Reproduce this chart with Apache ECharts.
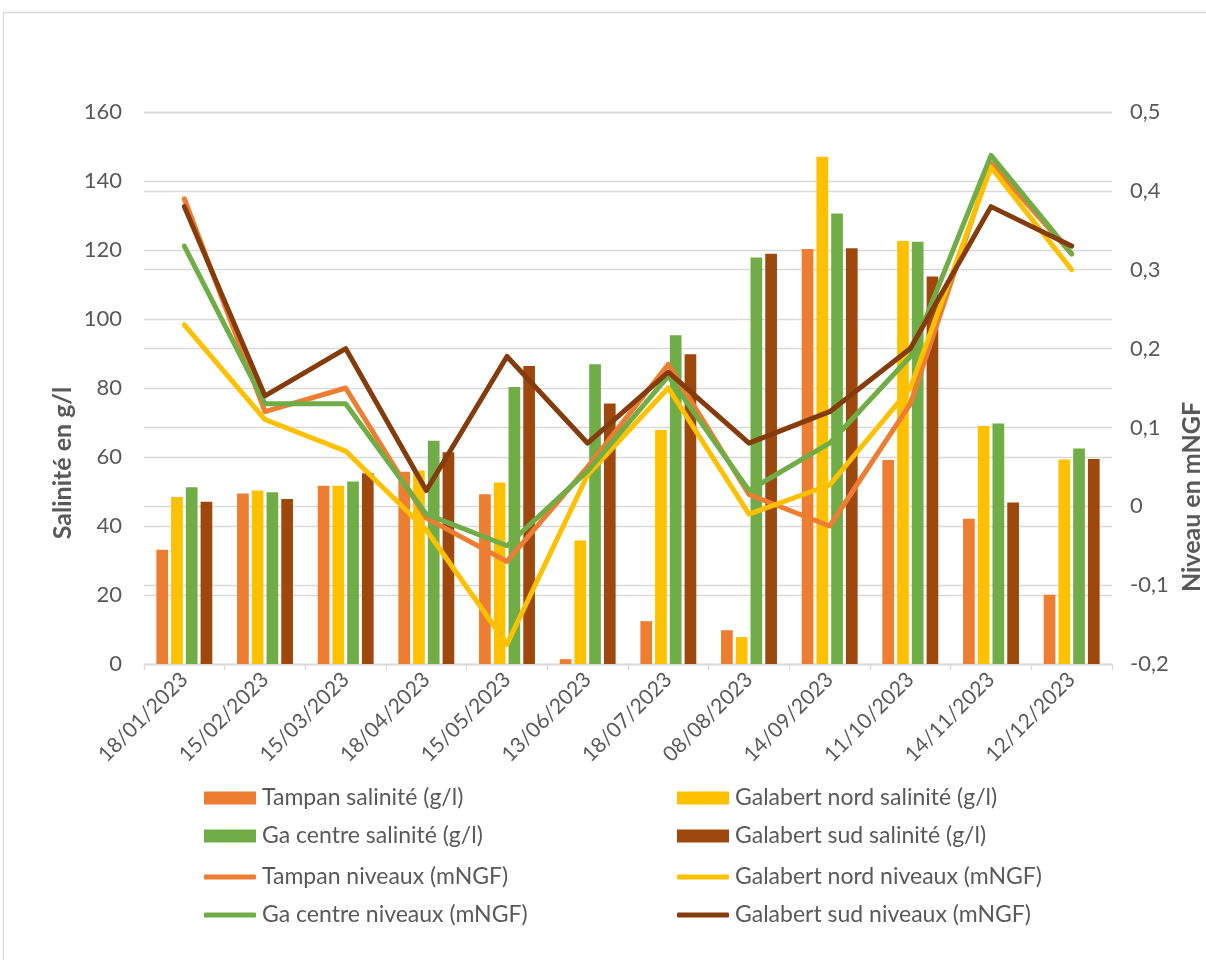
<!DOCTYPE html>
<html><head><meta charset="utf-8">
<script src="https://cdn.jsdelivr.net/npm/echarts@6/dist/echarts.min.js"></script>
<style>html,body{margin:0;padding:0;background:#fff}#c{width:1206px;height:960px}</style>
</head><body><div id="c"></div>
<script>
const categories = ['18/01/2023','15/02/2023','15/03/2023','18/04/2023','15/05/2023','13/06/2023','18/07/2023','08/08/2023','14/09/2023','11/10/2023','14/11/2023','12/12/2023'];
const tampanSal = [33.1, 49.4, 51.7, 55.7, 49.2, 1.4, 12.4, 9.8, 120.3, 59.1, 42.1, 20.1];
const nordSal   = [48.4, 50.3, 51.7, 56.1, 52.6, 35.8, 67.8, 7.8, 147.0, 122.6, 69.0, 59.3];
const centreSal = [51.2, 49.8, 52.9, 64.7, 80.3, 86.9, 95.3, 117.8, 130.6, 122.4, 69.7, 62.5];
const sudSal    = [47.0, 47.8, 55.3, 61.4, 86.4, 75.5, 89.8, 118.9, 120.5, 112.3, 46.8, 59.4];
const tampanNiv = [0.39, 0.12, 0.15, -0.015, -0.07, 0.05, 0.18, 0.015, -0.025, 0.13, 0.435, 0.32];
const nordNiv   = [0.23, 0.11, 0.07, -0.03, -0.175, 0.04, 0.15, -0.01, 0.027, 0.15, 0.43, 0.30];
const centreNiv = [0.33, 0.13, 0.13, -0.01, -0.05, 0.045, 0.165, 0.02, 0.08, 0.19, 0.445, 0.32];
const sudNiv    = [0.38, 0.14, 0.20, 0.02, 0.19, 0.08, 0.17, 0.08, 0.12, 0.20, 0.38, 0.33];
const leftTicks = {min: 0, max: 160, interval: 20};
const rightTicks = {min: -0.2, max: 0.5, interval: 0.1};

const C = {tampan:'#ED7D31', nord:'#FFC000', centre:'#70AD47', sudBar:'#9E480E', sudLine:'#843C0C'};
const FONT = 'Lato';
const TXT = '#595959';
const GRID = '#d9d9d9';

const chart = echarts.init(document.getElementById('c'), null, {renderer:'canvas'});

function bar(name, data, color){
  return {name, type:'bar', data, yAxisIndex:0, barWidth:11.7, barGap:'26%', itemStyle:{color}, animation:false};
}
function line(name, data, color){
  return {name, type:'line', data, yAxisIndex:1, showSymbol:false, symbol:'none', lineStyle:{width:5, color, cap:'round', join:'round'}, itemStyle:{color}, animation:false};
}
function leg(name, left, top, isLine, color){
  return {data:[{name, icon: isLine ? 'roundRect' : 'rect', itemStyle:{color}}], left, top, padding:0,
    itemWidth:52, itemHeight: isLine ? 5 : 13, itemGap:0,
    textStyle:{fontFamily:FONT, fontSize:23, color:TXT, lineHeight:26, padding:[0,0,0,1]},
    selectedMode:false};
}
const rowY = [785, 823, 864, 902];
const colX = [204, 677];

const option = {
  backgroundColor:'#fff',
  animation:false,
  textStyle:{fontFamily:FONT},
  grid:{left:144, right:94, top:112, bottom:296},
  xAxis:{type:'category', data:categories, boundaryGap:true,
    axisLine:{lineStyle:{color:GRID, width:1.3}},
    axisTick:{show:true, length:6, interval:0, lineStyle:{color:GRID, width:1.3}},
    axisLabel:{rotate:45, interval:0, fontFamily:FONT, fontSize:21, color:TXT, margin:12}},
  yAxis:[
    {type:'value', min:leftTicks.min, max:leftTicks.max, interval:leftTicks.interval, position:'left',
      axisLine:{show:false}, axisTick:{show:false},
      splitLine:{show:true, lineStyle:{color:GRID, width:1.3}},
      axisLabel:{fontFamily:FONT, fontSize:22, color:TXT, margin:22}},
    {type:'value', min:rightTicks.min, max:rightTicks.max, interval:rightTicks.interval, position:'right',
      axisLine:{show:false}, axisTick:{show:false},
      splitLine:{show:true, lineStyle:{color:GRID, width:1.3}},
      axisLabel:{fontFamily:FONT, fontSize:22, color:TXT, margin:18,
        formatter: v => String(Math.round(v*10)/10).replace('.', ',')}}
  ],
  legend:[
    leg('Tampan salinité (g/l)', colX[0], rowY[0], false, C.tampan),
    leg('Galabert nord salinité (g/l)', colX[1], rowY[0], false, C.nord),
    leg('Ga centre salinité (g/l)', colX[0], rowY[1], false, C.centre),
    leg('Galabert sud salinité (g/l)', colX[1], rowY[1], false, C.sudBar),
    leg('Tampan niveaux (mNGF)', colX[0], rowY[2], true, C.tampan),
    leg('Galabert nord niveaux (mNGF)', colX[1], rowY[2], true, C.nord),
    leg('Ga centre niveaux (mNGF)', colX[0], rowY[3], true, C.centre),
    leg('Galabert sud niveaux (mNGF)', colX[1], rowY[3], true, C.sudLine)
  ],
  series:[
    bar('Tampan salinité (g/l)', tampanSal, C.tampan),
    bar('Galabert nord salinité (g/l)', nordSal, C.nord),
    bar('Ga centre salinité (g/l)', centreSal, C.centre),
    bar('Galabert sud salinité (g/l)', sudSal, C.sudBar),
    line('Tampan niveaux (mNGF)', tampanNiv, C.tampan),
    line('Galabert nord niveaux (mNGF)', nordNiv, C.nord),
    line('Ga centre niveaux (mNGF)', centreNiv, C.centre),
    line('Galabert sud niveaux (mNGF)', sudNiv, C.sudLine)
  ],
  graphic:[
    {type:'rect', shape:{x:3.5, y:12.5, width:1220, height:980}, style:{fill:'none', stroke:GRID, lineWidth:1.3}, silent:true},
    {type:'text', x:63, y:463, rotation:Math.PI/2, style:{text:'Salinité en g/l', fontFamily:FONT, fontWeight:'bold', fontSize:25, fill:TXT, align:'center', verticalAlign:'middle'}},
    {type:'text', x:1192, y:497, rotation:Math.PI/2, style:{text:'Niveau en mNGF', fontFamily:FONT, fontWeight:'bold', fontSize:25, fill:TXT, align:'center', verticalAlign:'middle'}}
  ]
};
chart.setOption(option);
</script></body></html>
